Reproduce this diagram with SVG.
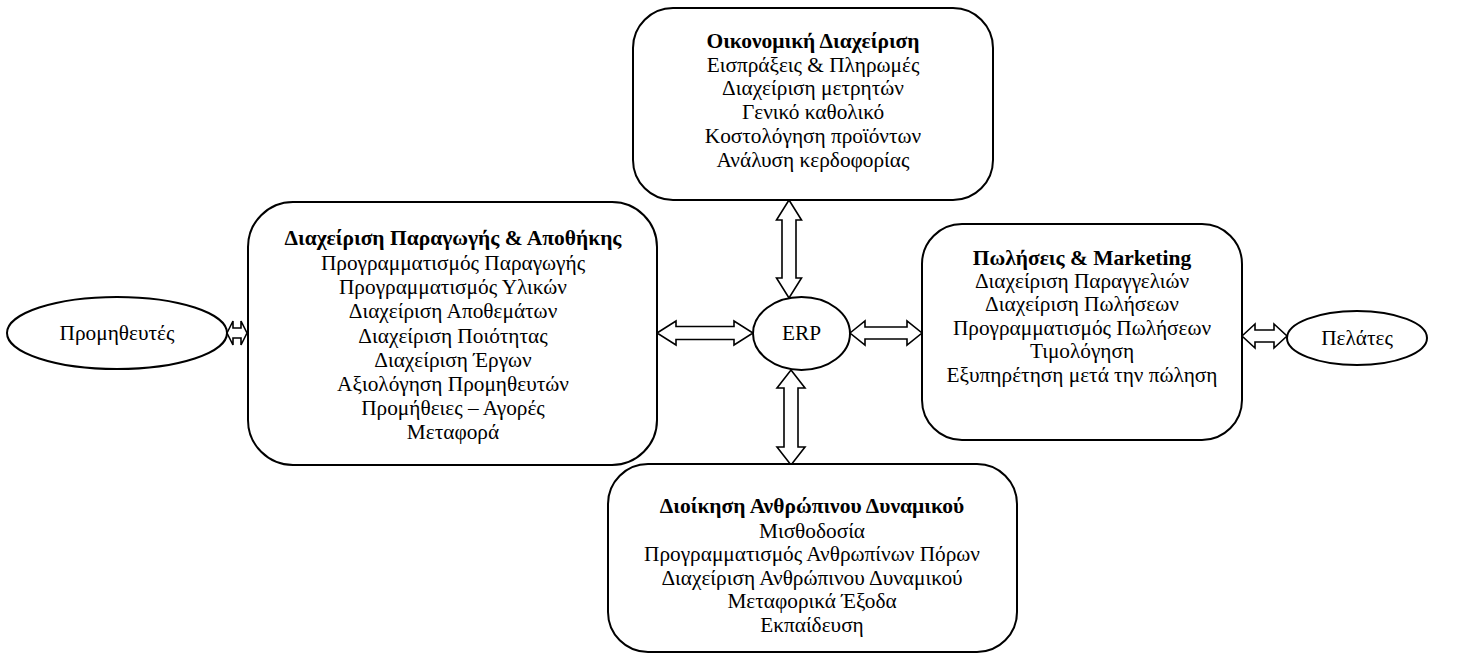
<svg xmlns="http://www.w3.org/2000/svg" width="1458" height="653" viewBox="0 0 1458 653">
  <style>
    .box { fill: #ffffff; stroke: #000000; stroke-width: 2; }
    .ell { fill: #ffffff; stroke: #000000; stroke-width: 2; }
    .arrow { fill: #ffffff; stroke: #000000; stroke-width: 1.6; stroke-linejoin: miter; }
    text { font-family: "Liberation Serif", "Times New Roman", serif; font-size: 21.3px; fill: #000000; text-anchor: middle; }
    .title { font-weight: bold; font-size: 21.5px; }
  </style>
  <rect width="1458" height="653" fill="#ffffff"/>

  <!-- double-headed block arrows -->
  <g id="connectors">
    <!-- Suppliers <-> Production -->
    <polygon class="arrow" points="227,333 233,321 233,328 241,328 241,321 247,333 241,345 241,338 233,338 233,345"/>
    <!-- Production <-> ERP -->
    <polygon class="arrow" points="657,333 676,321 676,326.5 734,326.5 734,321 753,333 734,345 734,339.5 676,339.5 676,345"/>
    <!-- ERP <-> Sales -->
    <polygon class="arrow" points="850,333 865,321 865,327 907,327 907,321 922,333 907,345 907,339 865,339 865,345"/>
    <!-- Sales <-> Customers -->
    <polygon class="arrow" points="1242,336 1255,324 1255,330 1274,330 1274,324 1287,336 1274,348 1274,342 1255,342 1255,348"/>
    <!-- Finance <-> ERP -->
    <polygon class="arrow" points="789,200 801.5,220 796,220 796,278 801.5,278 789,298 776.5,278 782,278 782,220 776.5,220"/>
    <!-- ERP <-> HR -->
    <polygon class="arrow" points="791,370 805,388 798,388 798,447 805,447 791,465 777,447 784,447 784,388 777,388"/>
  </g>

  <g id="finance">
    <rect class="box" x="633" y="8" width="360" height="192" rx="40" ry="40"/>
    <text x="813" y="48" class="title">Οικονομική Διαχείριση</text>
    <text x="813" y="72">Εισπράξεις &amp; Πληρωμές</text>
    <text x="813" y="95">Διαχείριση μετρητών</text>
    <text x="813" y="119">Γενικό καθολικό</text>
    <text x="813" y="143">Κοστολόγηση προϊόντων</text>
    <text x="813" y="167">Ανάλυση κερδοφορίας</text>
  </g>

  <g id="production">
    <rect class="box" x="248" y="202" width="409" height="263" rx="45" ry="45"/>
    <text x="453" y="245" class="title">Διαχείριση Παραγωγής &amp; Αποθήκης</text>
    <text x="453" y="270">Προγραμματισμός Παραγωγής</text>
    <text x="453" y="294">Προγραμματισμός Υλικών</text>
    <text x="453" y="318">Διαχείριση Αποθεμάτων</text>
    <text x="453" y="343">Διαχείριση Ποιότητας</text>
    <text x="453" y="367">Διαχείριση Έργων</text>
    <text x="453" y="391">Αξιολόγηση Προμηθευτών</text>
    <text x="453" y="415">Προμήθειες – Αγορές</text>
    <text x="453" y="439">Μεταφορά</text>
  </g>

  <g id="sales">
    <rect class="box" x="922" y="224" width="320" height="216" rx="40" ry="40"/>
    <text x="1082" y="265" class="title">Πωλήσεις &amp; Marketing</text>
    <text x="1082" y="288">Διαχείριση Παραγγελιών</text>
    <text x="1082" y="311">Διαχείριση Πωλήσεων</text>
    <text x="1082" y="335">Προγραμματισμός Πωλήσεων</text>
    <text x="1082" y="358">Τιμολόγηση</text>
    <text x="1082" y="382">Εξυπηρέτηση μετά την πώληση</text>
  </g>

  <g id="hr">
    <rect class="box" x="608" y="464" width="409" height="188" rx="40" ry="40"/>
    <text x="812" y="513" class="title">Διοίκηση Ανθρώπινου Δυναμικού</text>
    <text x="812" y="538">Μισθοδοσία</text>
    <text x="812" y="561">Προγραμματισμός Ανθρωπίνων Πόρων</text>
    <text x="812" y="585">Διαχείριση Ανθρώπινου Δυναμικού</text>
    <text x="812" y="608">Μεταφορικά Έξοδα</text>
    <text x="812" y="632">Εκπαίδευση</text>
  </g>

  <g id="erp">
    <ellipse class="ell" cx="801.5" cy="333.5" rx="48.5" ry="36.5"/>
    <text x="801.5" y="340">ERP</text>
  </g>

  <g id="suppliers">
    <ellipse class="ell" cx="117" cy="333" rx="110" ry="36"/>
    <text x="117" y="340">Προμηθευτές</text>
  </g>

  <g id="customers">
    <ellipse class="ell" cx="1357" cy="338" rx="70" ry="27"/>
    <text x="1357" y="345">Πελάτες</text>
  </g>
</svg>
